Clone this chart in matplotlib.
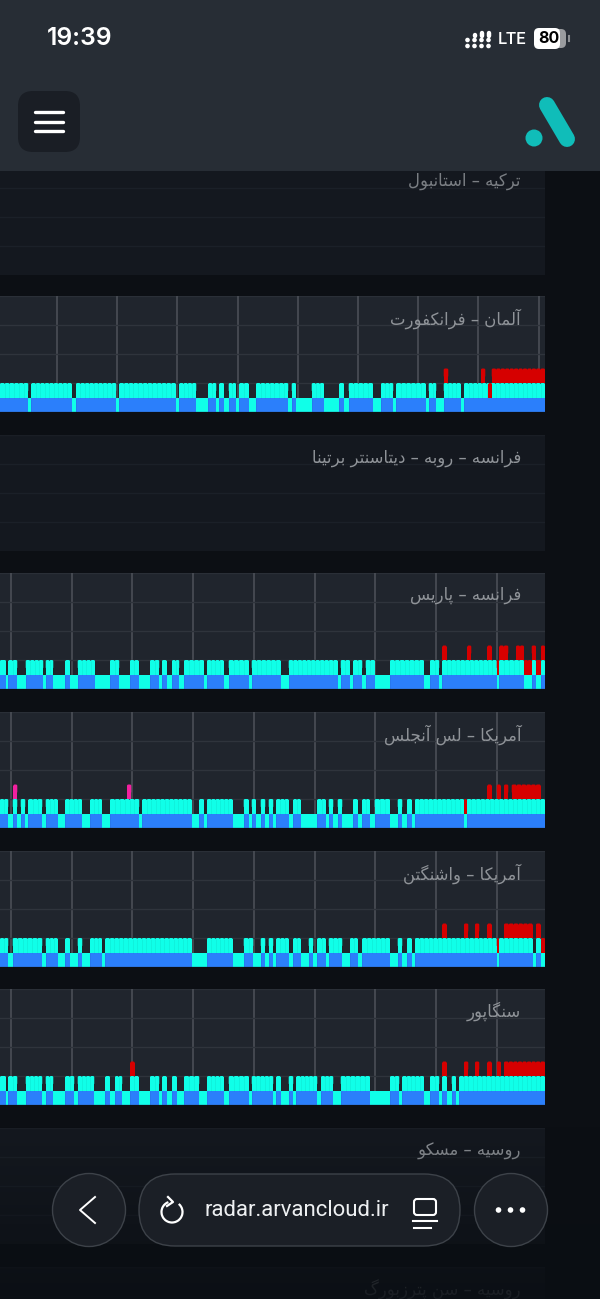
import numpy as np
import matplotlib
matplotlib.use('Agg')
import matplotlib.pyplot as plt
from matplotlib.patches import FancyBboxPatch, Circle, Arc

# spans are minutes on the time axis
germany_up = [(0, 28.3), (31.3, 71.7), (76, 116.2), (119.3, 175.8), (179.3, 196.3), (208.3, 216.3), (219.3, 224),
              (228.7, 236), (239.3, 248.7), (256, 288.3), (291.7, 296), (311.7, 324), (339.3, 344), (348.7, 373),
              (381, 393.3), (396.3, 425.7), (428.7, 436.3), (443.7, 460.7), (464, 545)]
germany_red = [(443.7, 448.3), (481, 485.3), (491.7, 545)]
germany_mid_red = [(488.3, 491.7)]
germany_pink = []

paris_up = [(0, 6), (8.3, 17.3), (25.7, 43.3), (45.7, 53.3), (65.3, 70), (77.7, 95), (110, 119.3), (130, 138.7),
            (150, 159.3), (162, 166.7), (172, 179.3), (184, 204), (207, 223.7), (228.7, 249), (251.7, 280.7),
            (288.7, 337.7), (340.7, 350), (353.3, 362.3), (365.7, 375), (390, 424), (430, 439.3), (442.3, 496.7),
            (499, 524), (531.7, 536), (541, 545)]
paris_red = [(442.3, 446.7), (467.3, 471.3), (487.3, 491.7), (499.3, 508.3), (516, 524), (531.7, 536), (541, 545)]
paris_mid_red = [(496.7, 499), (524, 531.7), (536, 541)]
paris_pink = []

la_up = [(0, 8.3), (12.7, 17.3), (20.7, 25.3), (28.3, 42.3), (45.7, 57.7), (65.3, 82), (90.3, 102), (110, 139.3),
         (142.3, 191.7), (199.3, 204), (207, 232.7), (243.7, 248.7), (251.7, 256), (260.7, 265.3), (268.7, 273.3),
         (276.3, 288.7), (293.3, 300.7), (317.3, 325.7), (328.7, 333.3), (337.7, 342.3), (353, 357.7), (362.3, 369.7),
         (374.7, 390), (397.7, 402.3), (407, 411.7), (415, 464), (466.7, 545)]
la_red = [(487.3, 491.7), (496.7, 500.7), (504, 508.3), (511.7, 540.7)]
la_mid_red = [(464, 466.7)]
la_pink = [(13.3, 17.3), (127, 131.3)]

washington_up = [(0, 8.3), (12.7, 42.3), (45.7, 57.7), (65.3, 70), (77.7, 82.3), (90.3, 102), (105.3, 191.7),
                 (207, 232.7), (243.7, 253.3), (260.7, 265.3), (268.7, 273.3), (276.3, 288.7), (293.3, 300.7),
                 (308.7, 313.3), (317.3, 325.7), (328.7, 342.3), (350, 357.7), (362.3, 390), (397.7, 402.3),
                 (407, 411.7), (415, 496.7), (499, 532.7), (536, 540.7)]
washington_red = [(442.3, 446.7), (464, 468.3), (475, 479.3), (487.3, 491.7), (504, 532.7), (536, 540.7)]
washington_mid_red = [(496.7, 499), (541, 545)]
washington_pink = []

singapore_up = [(0, 6), (8.3, 17.3), (25.7, 42.3), (45.7, 53.3), (65.3, 74.3), (77.7, 94.3), (105.3, 110), (115, 122.3),
                (130, 138.7), (150, 159.3), (162.3, 166.7), (172, 176.7), (184, 199.3), (207, 223.7), (228.7, 249),
                (251.7, 273.3), (276.3, 280.7), (288.7, 293.3), (296.3, 317.3), (321, 333.3), (340.7, 370), (390, 399.3),
                (402.3, 424), (430, 439.3), (442.3, 446.7), (451.7, 456), (459.3, 545)]
singapore_red = [(130.3, 134.7), (442.3, 446.7), (464, 468.3), (475, 479.3), (487.3, 491.7), (496.7, 501), (504, 545)]
singapore_mid_red = []
singapore_pink = []

panel_names = ['ترکیه – استانبول', 'آلمان – فرانکفورت', 'فرانسه – روبه – دیتاسنتر برتینا', 'فرانسه – پاریس',
               'آمریکا – لس آنجلس', 'آمریکا – واشنگتن', 'سنگاپور', 'روسیه – مسکو', 'روسیه – سن پترزبورگ']
panel_tops = [159, 296, 435, 573, 712, 851, 989, 1128, 1267]
grid_starts = [None, 57, None, 11, 11, 11, 11, None, None]
grid_steps = [None, 60.2, None, 60.7, 60.7, 60.7, 60.7, None, None]

CYAN = '#10ffe8'
BLUE = '#2b7ffb'
RED = '#d60000'
PINK = '#f2209f'

W, H = 600, 1299

FORMS = {
    'ا': ('\ufe8d', '\ufe8e'), 'آ': ('\ufe81', '\ufe82'), 'د': ('\ufea9', '\ufeaa'), 'ر': ('\ufead', '\ufeae'),
    'ز': ('\ufeaf', '\ufeb0'), 'و': ('\ufeed', '\ufeee'),
    'ب': ('\ufe8f', '\ufe90', '\ufe91', '\ufe92'), 'پ': ('\ufb56', '\ufb57', '\ufb58', '\ufb59'),
    'ت': ('\ufe95', '\ufe96', '\ufe97', '\ufe98'), 'ج': ('\ufe9d', '\ufe9e', '\ufe9f', '\ufea0'),
    'س': ('\ufeb1', '\ufeb2', '\ufeb3', '\ufeb4'), 'ش': ('\ufeb5', '\ufeb6', '\ufeb7', '\ufeb8'),
    'ف': ('\ufed1', '\ufed2', '\ufed3', '\ufed4'), 'ک': ('\ufb8e', '\ufb8f', '\ufb90', '\ufb91'),
    'گ': ('\ufb92', '\ufb93', '\ufb94', '\ufb95'), 'ل': ('\ufedd', '\ufede', '\ufedf', '\ufee0'),
    'م': ('\ufee1', '\ufee2', '\ufee3', '\ufee4'), 'ن': ('\ufee5', '\ufee6', '\ufee7', '\ufee8'),
    'ه': ('\ufee9', '\ufeea', '\ufeeb', '\ufeec'), 'ی': ('\ufbfc', '\ufbfd', '\ufbfe', '\ufbff'),
}


def shape(text):
    # matplotlib does no arabic joining, so pick the forms and lay them out right to left
    out = []
    for i, ch in enumerate(text):
        if ch not in FORMS:
            out.append(ch)
            continue
        f = FORMS[ch]
        prev = text[i - 1] if i > 0 else ' '
        nxt = text[i + 1] if i + 1 < len(text) else ' '
        from_prev = prev in FORMS and len(FORMS[prev]) == 4
        to_next = len(f) == 4 and nxt in FORMS
        if from_prev and to_next:
            out.append(f[3])
        elif from_prev:
            out.append(f[1])
        elif to_next:
            out.append(f[2])
        else:
            out.append(f[0])
    return ''.join(reversed(out))


def complement(spans, end=545):
    out = []
    pos = 0
    for a, b in spans:
        if a > pos:
            out.append((pos, a))
        pos = b
    if pos < end:
        out.append((pos, end))
    return out


def slots(spans):
    # the bars are about 4.6 minutes wide
    for a, b in spans:
        n = max(1, round((b - a) / 4.6))
        edges = np.linspace(a, b, n + 1)
        for left, right in zip(edges[:-1], edges[1:]):
            yield left, right


def rounded_row(ax, spans, bottom, color, z):
    for left, right in slots(spans):
        ax.bar(left, 0.45, right - left, bottom=bottom, align='edge', color=color, linewidth=0, zorder=z)
        ax.add_patch(FancyBboxPatch((left, bottom + 0.2), right - left, 0.3,
                                    boxstyle='round,pad=0,rounding_size=1.4', mutation_aspect=1 / 29,
                                    fc=color, ec='none', zorder=z))


def flat_row(ax, spans, bottom, color, z):
    for left, right in slots(spans):
        ax.bar(left, 0.5, right - left, bottom=bottom, align='edge', color=color, linewidth=0, zorder=z)
        ax.vlines(right, bottom, bottom + 0.5, color='#000000', alpha=0.05, lw=0.7, zorder=z)


def draw_panel(ax, up, red, mid_red, pink):
    rounded_row(ax, red, 1.0, RED, 3)
    rounded_row(ax, pink, 1.0, PINK, 3)
    rounded_row(ax, up, 0.5, CYAN, 4)
    rounded_row(ax, mid_red, 0.5, RED, 4)
    flat_row(ax, up, 0, BLUE, 5)
    flat_row(ax, complement(up), 0, CYAN, 5)
    for left, right in slots(up):
        ax.vlines(right, 0.5, 0.97, color='#000000', alpha=0.05, lw=0.7, zorder=5)


fig = plt.figure(figsize=(W / 100, H / 100), dpi=100, facecolor='#0c0f14')

series = {1: (germany_up, germany_red, germany_mid_red, germany_pink),
          3: (paris_up, paris_red, paris_mid_red, paris_pink),
          4: (la_up, la_red, la_mid_red, la_pink),
          5: (washington_up, washington_red, washington_mid_red, washington_pink),
          6: (singapore_up, singapore_red, singapore_mid_red, singapore_pink)}

for i, top in enumerate(panel_tops):
    ax = fig.add_axes([0, 1 - (top + 116) / H, 545 / W, 116 / H])
    ax.set_xlim(0, 545)
    ax.set_ylim(0, 4)
    lit = i in series
    ax.set_facecolor('#20252d' if lit else '#14181f')
    for s in ax.spines.values():
        s.set_visible(False)
    ax.set_yticks([1, 2, 3])
    ax.tick_params(length=0, labelleft=False, labelbottom=False)
    ax.grid(axis='y', color='#2f343c' if lit else '#1b2028', lw=1.0, zorder=1)
    if lit:
        ax.set_xticks(np.arange(grid_starts[i], 545, grid_steps[i]))
        ax.grid(axis='x', color='#4b4f57', lw=1.2, zorder=1)
        draw_panel(ax, *series[i])
        ax.axhline(0, color='#2d4a78', lw=1.0, zorder=6)
    else:
        ax.set_xticks([])
    ax.axhline(4, color='#2a2f37' if lit else '#1a1e25', lw=1.0, zorder=1)
    ax.text(521 / 545, 1 - 22.5 / 116, shape(panel_names[i]), transform=ax.transAxes, ha='right', va='center',
            family='DejaVu Sans', fontsize=11.9, color='#8f9398' if lit or i in (2, 7) else '#7a7e83', zorder=7)

# phone and browser chrome on top of the page
over = fig.add_axes([0, 0, 1, 1], facecolor='none')
over.set_xlim(0, W)
over.set_ylim(H, 0)
over.axis('off')

# page fades out behind the browser bar
fade = np.zeros((100, 2, 4))
fade[:, :, :3] = (0.04, 0.055, 0.075)
fade[:, :, 3] = np.linspace(0, 0.88, 100)[:, None]
over.imshow(fade, extent=(0, W, 1299, 1125), aspect='auto', zorder=1)
over.set_xlim(0, W)
over.set_ylim(H, 0)

over.add_patch(plt.Rectangle((0, 0), W, 170.5, fc='#272d35', ec='none', zorder=2))
over.text(79.5, 38.5, '19:39', color='white', family='Inter', fontsize=17.8, weight='semibold', ha='center', va='center', zorder=3)
over.text(512, 39, 'LTE', color='white', family='Roboto', fontsize=12, weight='medium', ha='center', va='center', zorder=3)
for col, x in enumerate([467.5, 474.5, 481.5, 488.5]):
    for y in [46, 40]:
        over.add_patch(Circle((x, y), 2.3, fc='white', ec='none', zorder=3))
    if col >= 1:
        over.plot([x, x], [35 - (col > 1) * 2, 36], color='white', lw=3.2, solid_capstyle='round', zorder=3)
over.add_patch(FancyBboxPatch((536, 29), 30, 19, boxstyle='round,pad=0,rounding_size=5', fc='#9a9c9f', ec='none', zorder=3))
over.add_patch(FancyBboxPatch((534, 28), 26, 21, boxstyle='round,pad=0,rounding_size=5', fc='white', ec='none', zorder=3))
over.text(549, 38.5, '80', color='black', family='Inter', fontsize=11.5, weight='bold', ha='center', va='center', zorder=4)
over.plot([569, 569], [36, 41], color='#8b8e92', lw=1.5, zorder=3)

over.add_patch(FancyBboxPatch((18, 91), 62, 61, boxstyle='round,pad=0,rounding_size=15', fc='#1a1e25', ec='none', zorder=3))
for y in [112, 121.5, 131]:
    over.plot([35, 63], [y, y], color='white', lw=2.4, solid_capstyle='round', zorder=4)
over.plot([547, 567], [105, 139], color='#10bdb9', lw=11.5, solid_capstyle='round', zorder=3)
over.add_patch(Circle((534, 138), 8.5, fc='#10bdb9', ec='none', zorder=3))

nav_face = '#1b1f26'
nav_edge = '#3d4249'
over.add_patch(Circle((89, 1210), 36.5, fc=nav_face, ec=nav_edge, lw=1, zorder=3))
over.add_patch(Circle((511, 1210), 36.5, fc=nav_face, ec=nav_edge, lw=1, zorder=3))
over.add_patch(FancyBboxPatch((139, 1174), 321, 72, boxstyle='round,pad=0,rounding_size=36', fc=nav_face, ec=nav_edge, lw=1, zorder=3))
over.plot([95, 80, 95], [1197, 1210, 1223], color='white', lw=1.4, zorder=4)
over.add_patch(Arc((172, 1212), 21, 21, theta1=-50, theta2=250, color='white', lw=1.6, zorder=4))
over.plot([168, 173, 167], [1197, 1202, 1206], color='white', lw=1.6, zorder=4)
over.text(297, 1210.5, 'radar.arvancloud.ir', color='#eef0f2', family='Roboto', fontsize=15.9, ha='center', va='center', zorder=4)
over.add_patch(FancyBboxPatch((414, 1199), 22, 16, boxstyle='round,pad=0,rounding_size=3', fc='none', ec='white', lw=1.5, zorder=4))
over.plot([413, 437], [1221, 1221], color='white', lw=1.5, zorder=4)
over.plot([414, 431], [1228, 1228], color='white', lw=1.5, zorder=4)
for x in [498.5, 510.5, 522.5]:
    over.add_patch(Circle((x, 1210), 2.8, fc='white', ec='none', zorder=4))

fig.savefig('out.png', dpi=100, facecolor=fig.get_facecolor())
